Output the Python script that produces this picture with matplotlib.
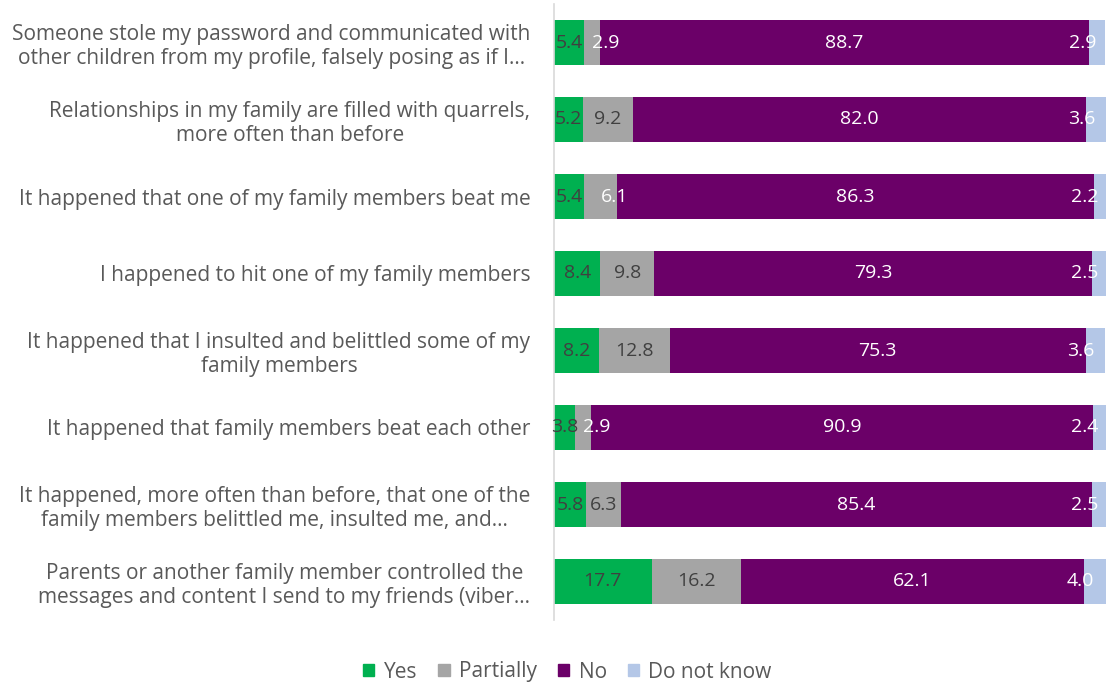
import numpy as np
import matplotlib.pyplot as plt
from matplotlib.patches import Patch

categories = [
    "Someone stole my password and communicated with\nother children from my profile, falsely posing as if I…",
    "Relationships in my family are filled with quarrels,\nmore often than before",
    "It happened that one of my family members beat me",
    "I happened to hit one of my family members",
    "It happened that I insulted and belittled some of my\nfamily members",
    "It happened that family members beat each other",
    "It happened, more often than before, that one of the\nfamily members belittled me, insulted me, and…",
    "Parents or another family member controlled the\nmessages and content I send to my friends (viber…",
]
yes = [5.4, 5.2, 5.4, 8.4, 8.2, 3.8, 5.8, 17.7]
partially = [2.9, 9.2, 6.1, 9.8, 12.8, 2.9, 6.3, 16.2]
no = [88.7, 82.0, 86.3, 79.3, 75.3, 90.9, 85.4, 62.1]
dont_know = [2.9, 3.6, 2.2, 2.5, 3.6, 2.4, 2.5, 4.0]

series = [
    ("Yes", yes, "#00B050"),
    ("Partially", partially, "#A5A5A5"),
    ("No", no, "#6B0068"),
    ("Do not know", dont_know, "#B4C7E7"),
]

plt.rcParams['font.family'] = ['Open Sans', 'DejaVu Sans']
lab_size = 14

fig = plt.figure(figsize=(11.06, 6.85), dpi=100)
ax = fig.add_axes([554 / 1106, 1 - 620 / 685, 1 - 554 / 1106, 616 / 685])

y = np.arange(len(categories))
left = np.zeros(len(categories))
for name, vals, color in series:
    vals = np.array(vals)
    ax.barh(y, vals, left=left, height=0.585, color=color, label=name)
    for i, v in enumerate(vals):
        cx = left[i] + v / 2
        if name == "Yes":
            ax.text(cx, i, f"{v:.1f}", ha="center", va="center", color="#404040", fontsize=lab_size)
        elif name == "Partially":
            if v < 6.2:
                # narrow segment: label spills over into the "No" bar
                ax.text(left[i] + v / 2, i, f"{v:.1f}", ha="left", va="center", color="white", fontsize=lab_size)
            else:
                ax.text(cx, i, f"{v:.1f}", ha="center", va="center", color="#404040", fontsize=lab_size)
        elif name == "No":
            ax.text(cx, i, f"{v:.1f}", ha="center", va="center", color="white", fontsize=lab_size)
        else:
            ax.text(cx - 0.2, i, f"{v:.1f}", ha="right", va="center", color="white", fontsize=lab_size)
    left += vals

ax.set_xlim(0, 100)
ax.set_ylim(len(categories) - 0.5, -0.5)
ax.set_yticks(y)
ax.set_yticklabels(categories, fontsize=15, color="#595959", multialignment="center",
                   linespacing=1.2)
ax.tick_params(axis="y", length=0, pad=17)
ax.set_xticks([])
for s in ["top", "right", "bottom"]:
    ax.spines[s].set_visible(False)
ax.spines["left"].set_color("#D9D9D9")
ax.spines["left"].set_linewidth(1.2)

handles = [Patch(color=c, label=n) for n, _, c in series]
leg = fig.legend(handles=handles, loc="center", bbox_to_anchor=(0.513, 1 - 672 / 685), ncol=4,
                 frameon=False, fontsize=15, handlelength=0.55, handleheight=0.55,
                 handletextpad=0.45, columnspacing=1.0)
for t in leg.get_texts():
    t.set_color("#595959")

fig.savefig("out.png", dpi=100)
